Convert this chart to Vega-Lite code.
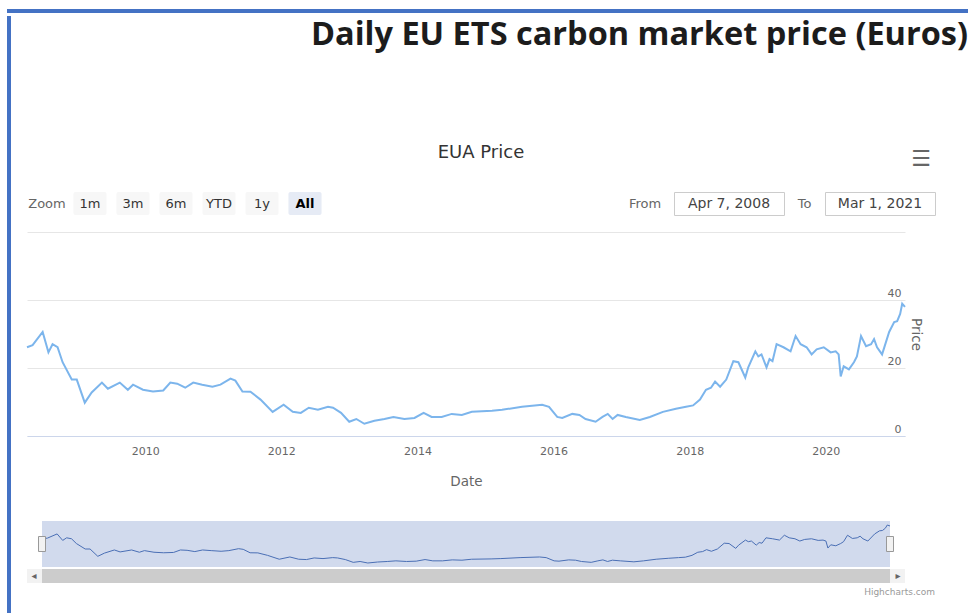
{
  "$schema": "https://vega.github.io/schema/vega-lite/v6.json",
  "padding": {"left": 7, "top": 5, "right": 0, "bottom": 0},
  "background": "white",
  "config": {
    "font": "DejaVu Sans",
    "view": {"stroke": null},
    "axis": {"labelFont": "DejaVu Sans", "titleFont": "DejaVu Sans"}
  },
  "datasets": {
    "eua": [
      {"date": "2008-04-07", "price": 26.1}, {"date": "2008-05-07", "price": 26.7}, {"date": "2008-06-30", "price": 30.6},
      {"date": "2008-07-31", "price": 24.6}, {"date": "2008-08-22", "price": 27.0}, {"date": "2008-09-18", "price": 26.1},
      {"date": "2008-10-15", "price": 21.7}, {"date": "2008-12-03", "price": 16.6}, {"date": "2008-12-30", "price": 16.6},
      {"date": "2009-02-11", "price": 9.8}, {"date": "2009-03-20", "price": 12.8}, {"date": "2009-05-14", "price": 15.7},
      {"date": "2009-06-15", "price": 13.9}, {"date": "2009-08-18", "price": 15.7}, {"date": "2009-09-30", "price": 13.6},
      {"date": "2009-10-28", "price": 15.1}, {"date": "2009-12-20", "price": 13.6}, {"date": "2010-02-12", "price": 13.1},
      {"date": "2010-04-08", "price": 13.4}, {"date": "2010-05-16", "price": 15.7}, {"date": "2010-06-22", "price": 15.4},
      {"date": "2010-08-04", "price": 14.2}, {"date": "2010-09-16", "price": 15.7}, {"date": "2010-11-03", "price": 15.1},
      {"date": "2010-12-28", "price": 14.5}, {"date": "2011-02-09", "price": 15.1}, {"date": "2011-04-04", "price": 16.9},
      {"date": "2011-04-30", "price": 16.3}, {"date": "2011-06-07", "price": 13.1}, {"date": "2011-07-20", "price": 13.0},
      {"date": "2011-09-12", "price": 10.7}, {"date": "2011-11-16", "price": 7.1}, {"date": "2012-01-14", "price": 9.2},
      {"date": "2012-03-03", "price": 7.1}, {"date": "2012-04-15", "price": 6.8}, {"date": "2012-05-28", "price": 8.3},
      {"date": "2012-07-16", "price": 7.7}, {"date": "2012-09-08", "price": 8.6}, {"date": "2012-10-05", "price": 8.3},
      {"date": "2012-11-17", "price": 6.8}, {"date": "2012-12-31", "price": 4.2}, {"date": "2013-02-07", "price": 5.0},
      {"date": "2013-03-22", "price": 3.6}, {"date": "2013-05-15", "price": 4.5}, {"date": "2013-07-08", "price": 5.0},
      {"date": "2013-08-25", "price": 5.6}, {"date": "2013-10-23", "price": 5.0}, {"date": "2013-12-16", "price": 5.3},
      {"date": "2014-02-03", "price": 6.8}, {"date": "2014-03-18", "price": 5.6}, {"date": "2014-05-11", "price": 5.6},
      {"date": "2014-07-04", "price": 6.5}, {"date": "2014-08-27", "price": 6.2}, {"date": "2014-10-20", "price": 7.1},
      {"date": "2015-02-05", "price": 7.4}, {"date": "2015-03-31", "price": 7.7}, {"date": "2015-07-16", "price": 8.6},
      {"date": "2015-11-01", "price": 9.2}, {"date": "2015-12-08", "price": 8.6}, {"date": "2016-01-21", "price": 5.6},
      {"date": "2016-02-17", "price": 5.3}, {"date": "2016-04-11", "price": 6.5}, {"date": "2016-05-19", "price": 6.2},
      {"date": "2016-06-21", "price": 5.0}, {"date": "2016-08-14", "price": 4.2}, {"date": "2016-09-20", "price": 5.6},
      {"date": "2016-10-18", "price": 6.5}, {"date": "2016-11-13", "price": 5.0}, {"date": "2016-12-10", "price": 6.2},
      {"date": "2017-01-23", "price": 5.6}, {"date": "2017-04-08", "price": 4.7}, {"date": "2017-06-01", "price": 5.6},
      {"date": "2017-08-10", "price": 7.1}, {"date": "2017-10-19", "price": 8.0}, {"date": "2017-12-12", "price": 8.6},
      {"date": "2018-01-19", "price": 9.0}, {"date": "2018-02-25", "price": 10.7}, {"date": "2018-03-29", "price": 13.6},
      {"date": "2018-04-25", "price": 14.2}, {"date": "2018-05-17", "price": 16.0}, {"date": "2018-06-13", "price": 14.5},
      {"date": "2018-07-16", "price": 16.6}, {"date": "2018-08-23", "price": 22.0}, {"date": "2018-09-19", "price": 21.7},
      {"date": "2018-10-26", "price": 17.2}, {"date": "2018-11-11", "price": 20.2}, {"date": "2018-12-19", "price": 24.9},
      {"date": "2019-01-04", "price": 23.4}, {"date": "2019-01-21", "price": 24.0}, {"date": "2019-02-17", "price": 20.2},
      {"date": "2019-03-05", "price": 22.6}, {"date": "2019-03-21", "price": 22.0}, {"date": "2019-04-12", "price": 27.0},
      {"date": "2019-05-19", "price": 26.1}, {"date": "2019-06-26", "price": 24.9}, {"date": "2019-07-23", "price": 29.4},
      {"date": "2019-08-19", "price": 27.0}, {"date": "2019-09-20", "price": 26.1}, {"date": "2019-10-17", "price": 24.0},
      {"date": "2019-11-13", "price": 25.5}, {"date": "2019-12-21", "price": 26.1}, {"date": "2020-01-27", "price": 24.6},
      {"date": "2020-02-23", "price": 24.9}, {"date": "2020-03-10", "price": 24.0}, {"date": "2020-03-21", "price": 17.5},
      {"date": "2020-04-06", "price": 20.5}, {"date": "2020-05-04", "price": 19.6}, {"date": "2020-05-31", "price": 21.7},
      {"date": "2020-06-16", "price": 23.4}, {"date": "2020-07-08", "price": 29.4}, {"date": "2020-08-04", "price": 26.4},
      {"date": "2020-08-31", "price": 27.0}, {"date": "2020-09-16", "price": 28.5}, {"date": "2020-10-02", "price": 26.1},
      {"date": "2020-10-29", "price": 24.0}, {"date": "2020-12-06", "price": 30.6}, {"date": "2021-01-02", "price": 33.5},
      {"date": "2021-01-18", "price": 33.8}, {"date": "2021-02-03", "price": 35.9}, {"date": "2021-02-14", "price": 38.9},
      {"date": "2021-03-01", "price": 38.0}
    ]
  },
  "spacing": 0,
  "vconcat": [
    {
      "width": 961, "height": 4,
      "view": {"fill": "#4472c4", "stroke": null},
      "data": {"values": [{"t": ""}]},
      "mark": {"type": "text"},
      "encoding": {"text": {"field": "t"}}
    },
    {
      "spacing": 12,
      "hconcat": [
        {
          "width": 4, "height": 604,
          "view": {"fill": "#4472c4", "stroke": null},
          "data": {"values": [{"t": ""}]},
          "mark": {"type": "text"},
          "encoding": {"text": {"field": "t"}}
        },
        {
          "spacing": 75,
          "vconcat": [
            {
              "width": 941, "height": 52,
              "data": {"values": [{"t": "Daily EU ETS carbon market price (Euros)"}]},
              "mark": {"type": "text", "align": "right", "fontSize": 32.5, "fontWeight": "bold", "font": "Open Sans", "color": "#1c1c1c", "dy": -7},
              "encoding": {"text": {"field": "t"}, "x": {"value": "width"}}
            },
            {
              "spacing": 21,
              "vconcat": [
                {
                  "width": 908, "height": 20,
                  "layer": [
                    {
                      "data": {"values": [{"t": "EUA Price"}]},
                      "mark": {"type": "text", "fontSize": 18, "color": "#333333"},
                      "encoding": {"text": {"field": "t"}}
                    },
                    {
                      "data": {"values": [{"t": "☰"}]},
                      "mark": {"type": "text", "align": "right", "fontSize": 22, "color": "#666666", "dx": -4, "dy": 6},
                      "encoding": {"text": {"field": "t"}, "x": {"value": "width"}}
                    }
                  ]
                },
                {
                  "spacing": 16,
                  "vconcat": [
                    {
                      "spacing": 302,
                      "hconcat": [
                        {
                          "width": 298, "height": 23,
                          "data": {"values": [{"label": "Zoom"}, {"label": "1m"}, {"label": "3m"}, {"label": "6m"}, {"label": "YTD"}, {"label": "1y"}, {"label": "All"}]},
                          "encoding": {
                            "x": {"field": "label", "type": "nominal", "sort": null,
                              "scale": {"domain": ["Zoom", "1m", "3m", "6m", "YTD", "1y", "All"], "paddingInner": 0.23, "paddingOuter": 0.08},
                              "axis": null}
                          },
                          "layer": [
                            {
                              "transform": [{"filter": "datum.label !== 'Zoom'"}],
                              "mark": {"type": "bar", "cornerRadius": 2},
                              "encoding": {"color": {"condition": {"test": "datum.label === 'All'", "value": "#e6ebf5"}, "value": "#f7f7f7"}}
                            },
                            {
                              "transform": [{"filter": "datum.label !== 'All'"}],
                              "mark": {"type": "text", "fontSize": 13},
                              "encoding": {
                                "text": {"field": "label"},
                                "color": {"condition": {"test": "datum.label === 'Zoom'", "value": "#666666"}, "value": "#333333"}
                              }
                            },
                            {
                              "transform": [{"filter": "datum.label === 'All'"}],
                              "mark": {"type": "text", "fontSize": 13, "fontWeight": "bold", "color": "#000000"},
                              "encoding": {"text": {"field": "label"}}
                            }
                          ]
                        },
                        {
                          "spacing": 10,
                          "hconcat": [
                            {
                              "width": 36, "height": 23,
                              "data": {"values": [{"t": "From"}]},
                              "mark": {"type": "text", "fontSize": 13, "color": "#666666"},
                              "encoding": {"text": {"field": "t"}}
                            },
                            {
                              "width": 110, "height": 23,
                              "view": {"stroke": "#cccccc", "fill": "white"},
                              "data": {"values": [{"t": "Apr 7, 2008"}]},
                              "mark": {"type": "text", "fontSize": 14, "color": "#444444"},
                              "encoding": {"text": {"field": "t"}}
                            },
                            {
                              "width": 19, "height": 23,
                              "data": {"values": [{"t": "To"}]},
                              "mark": {"type": "text", "fontSize": 13, "color": "#666666"},
                              "encoding": {"text": {"field": "t"}}
                            },
                            {
                              "width": 110, "height": 23,
                              "view": {"stroke": "#cccccc", "fill": "white"},
                              "data": {"values": [{"t": "Mar 1, 2021"}]},
                              "mark": {"type": "text", "fontSize": 14, "color": "#444444"},
                              "encoding": {"text": {"field": "t"}}
                            }
                          ]
                        }
                      ]
                    },
                    {
                      "spacing": 33,
                      "vconcat": [
                        {
                          "width": 878, "height": 204,
                          "data": {"name": "eua"},
                          "mark": {"type": "line", "color": "#7cb5ec", "strokeWidth": 2},
                          "encoding": {
                            "x": {"field": "date", "type": "temporal", "scale": {"nice": false},
                              "axis": {"title": "Date", "format": "%Y", "tickCount": {"interval": "year", "step": 2},
                                "grid": false, "ticks": false, "domainColor": "#ccd6eb", "labelColor": "#666666",
                                "labelFontSize": 11, "labelPadding": 9, "labelFlush": false,
                                "titleFontWeight": "normal", "titleColor": "#666666", "titleFontSize": 13.5, "titlePadding": 18}},
                            "y": {"field": "price", "type": "quantitative", "scale": {"domain": [0, 60], "nice": false},
                              "axis": {"orient": "right", "title": "Price", "values": [0, 20, 40, 60],
                                "labelExpr": "datum.value == 60 ? '' : datum.label",
                                "ticks": false, "domain": false, "gridColor": "#e6e6e6",
                                "labelAlign": "right", "labelBaseline": "bottom", "labelPadding": -4, "labelOffset": -2,
                                "labelColor": "#666666", "labelFontSize": 11,
                                "titleColor": "#666666", "titleFontWeight": "normal", "titleFontSize": 13.5,
                                "titlePadding": 3, "titleAngle": 90}}
                          }
                        },
                        {
                          "spacing": 2,
                          "vconcat": [
                            {
                              "width": 878, "height": 46,
                              "data": {"name": "eua"},
                              "layer": [
                                {
                                  "mark": {"type": "rect", "color": "#6685c2", "opacity": 0.3},
                                  "encoding": {
                                    "x": {"aggregate": "min", "field": "date", "type": "temporal", "scale": {"nice": false, "padding": 15}, "axis": null},
                                    "x2": {"aggregate": "max", "field": "date"}
                                  }
                                },
                                {
                                  "mark": {"type": "line", "color": "#4a6fb5", "strokeWidth": 1},
                                  "encoding": {
                                    "x": {"field": "date", "type": "temporal",
                                      "axis": {"title": null, "format": "%Y", "tickCount": {"interval": "year", "step": 4},
                                        "grid": true, "gridColor": "#e6e6e6", "ticks": false, "domain": false,
                                        "labelAlign": "left", "labelPadding": -16, "labelOffset": 2,
                                        "labelColor": "#8a8a8a", "labelFontSize": 11, "labelFlush": false}},
                                    "y": {"field": "price", "type": "quantitative", "scale": {"zero": false, "nice": false, "padding": 4}, "axis": null}
                                  }
                                },
                                {
                                  "transform": [
                                    {"aggregate": [{"op": "min", "field": "date", "as": "d0"}, {"op": "max", "field": "date", "as": "d1"}]},
                                    {"fold": ["d0", "d1"], "as": ["k", "d"]}
                                  ],
                                  "mark": {"type": "tick", "orient": "vertical", "size": 15, "thickness": 7, "color": "#f2f2f2", "stroke": "#999999", "strokeWidth": 1, "opacity": 1},
                                  "encoding": {"x": {"field": "d", "type": "temporal", "axis": null}}
                                }
                              ]
                            },
                            {
                              "spacing": 4,
                              "vconcat": [
                                {
                                  "width": 878, "height": 14,
                                  "view": {"fill": "#f2f2f2", "stroke": null},
                                  "data": {"name": "eua"},
                                  "layer": [
                                    {
                                      "mark": {"type": "rect", "color": "#cccccc"},
                                      "encoding": {
                                        "x": {"aggregate": "min", "field": "date", "type": "temporal", "scale": {"nice": false, "padding": 15}, "axis": null},
                                        "x2": {"aggregate": "max", "field": "date"}
                                      }
                                    },
                                    {
                                      "mark": {"type": "text", "text": "◂", "fontSize": 10, "color": "#666666", "dx": -8},
                                      "encoding": {"x": {"aggregate": "min", "field": "date", "type": "temporal", "axis": null}}
                                    },
                                    {
                                      "mark": {"type": "text", "text": "▸", "fontSize": 10, "color": "#666666", "dx": 8},
                                      "encoding": {"x": {"aggregate": "max", "field": "date", "type": "temporal", "axis": null}}
                                    }
                                  ]
                                },
                                {
                                  "width": 908, "height": 10,
                                  "data": {"values": [{"t": "Highcharts.com"}]},
                                  "mark": {"type": "text", "align": "right", "fontSize": 9, "color": "#999999"},
                                  "encoding": {"text": {"field": "t"}, "x": {"value": "width"}}
                                }
                              ]
                            }
                          ]
                        }
                      ]
                    }
                  ]
                }
              ]
            }
          ]
        }
      ]
    }
  ]
}
